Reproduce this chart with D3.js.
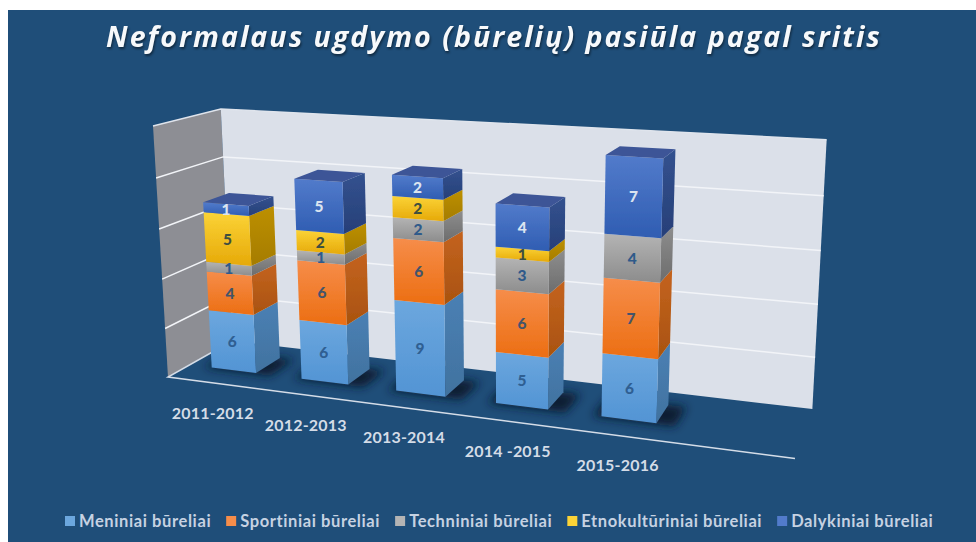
<!DOCTYPE html>
<html>
<head>
<meta charset="utf-8">
<script src="https://cdn.jsdelivr.net/npm/d3@7"></script>
<style>
  html, body { margin: 0; padding: 0; background: #fff; overflow: hidden; }
  svg { display: block; }
  text { font-family: Lato, "Open Sans", sans-serif; font-weight: 700; }
</style>
</head>
<body>
<script>
// Chart data
const titleText = "Neformalaus ugdymo (būrelių) pasiūla pagal sritis";
const categories = ["2011-2012", "2012-2013", "2013-2014", "2014 -2015", "2015-2016"];
const seriesNames = ["Meniniai būreliai", "Sportiniai būreliai", "Techniniai būreliai", "Etnokultūriniai būreliai", "Dalykiniai būreliai"];
const meniniai = [6, 6, 9, 5, 6];
const sportiniai = [4, 6, 6, 6, 7];
const techniniai = [1, 1, 2, 3, 4];
const etnokulturiniai = [5, 2, 2, 1, 0];
const dalykiniai = [1, 5, 2, 4, 7];
const axisMax = 25;

// Face colours per series: front top, front bottom, side top, side bottom, label
const palette = [
  ["#6ca7de", "#5294d4", "#4a80b4", "#41729f", "#2f5f92"],
  ["#f68d4a", "#ec6e12", "#c4631f", "#a9530f", "#44546a"],
  ["#b4b4b4", "#8c8c8c", "#8e8e8e", "#6c6c6c", "#2f5a8a"],
  ["#fbd337", "#e6a908", "#bd9000", "#a57c00", "#3f4f40"],
  ["#527bcb", "#2f5db2", "#33528f", "#273f78", "#dbe4f0"]
];
const topFace = "#3c5597";

const svgWidth = 976;
const svgHeight = 542;

const svg = d3.select("body").append("svg")
  .attr("width", svgWidth)
  .attr("height", svgHeight);

const defs = svg.append("defs");

svg.append("rect")
  .attr("x", 8).attr("y", 10)
  .attr("width", svgWidth - 8).attr("height", svgHeight - 10)
  .attr("fill", "#1f4e79");

// Perspective camera: screen spots of the box corners from the origin along x, y, z
// plus their homogeneous weights
const origin = [168, 377], cornerX = [795, 458.5], cornerY = [153, 126], cornerZ = [232, 341];
const weightX = 0.845, weightY = 0.958, weightZ = 1.085;

function project(x, y, z) {
  const w = 1 + x * (weightX - 1) + y * (weightY - 1) + z * (weightZ - 1);
  const at = i => origin[i]
    + x * (weightX * cornerX[i] - origin[i])
    + y * (weightY * cornerY[i] - origin[i])
    + z * (weightZ * cornerZ[i] - origin[i]);
  return [at(0) / w, at(1) / w];
}

const line2d = d3.line();
const polyPath = pts => line2d(pts) + "Z";

// The original axis has a sixth, empty slot on the right
const xScale = d3.scaleBand()
  .domain([...categories, ""])
  .range([0, 1])
  .paddingInner(0.5)
  .paddingOuter(0.25);
const yScale = d3.scaleLinear().domain([0, axisMax]).range([0, 1]);
const zFront = 0.325, zBack = 0.725;

// Walls
const walls = svg.append("g");
walls.append("path")
  .attr("d", polyPath([project(0, 0, 0), project(0, 1, 0), project(0, 1, 1), project(0, 0, 1)]))
  .attr("fill", "#8d8e94");
walls.append("path")
  .attr("d", polyPath([project(0, 0, 1), project(0, 1, 1), project(1, 1, 1), project(1, 0, 1)]))
  .attr("fill", "#dbe0e9");

// Gridlines run along the side wall and then the back wall
yScale.ticks(5).forEach(t => {
  const v = yScale(t);
  if (t === 0) return;
  walls.append("path")
    .attr("d", d3.line()([project(0, v, 0), project(0, v, 1), project(1, v, 1)]))
    .attr("fill", "none")
    .attr("stroke", t === axisMax ? "#dfe4ec" : "#f2f4f8")
    .attr("stroke-width", 1.5);
});
walls.append("path")
  .attr("d", d3.line()([project(0, 0, 1), project(0, 0, 0), project(1, 0, 0)]))
  .attr("fill", "none")
  .attr("stroke", "#d5dde8")
  .attr("stroke-width", 1.5);

// Gradients per series and face
function addGradient(id, top, bottom) {
  const g = defs.append("linearGradient")
    .attr("id", id)
    .attr("x1", 0).attr("y1", 0).attr("x2", 0).attr("y2", 1);
  g.append("stop").attr("offset", "0%").attr("stop-color", top);
  g.append("stop").attr("offset", "100%").attr("stop-color", bottom);
}
palette.forEach((p, i) => {
  addGradient("front" + i, p[0], p[1]);
  addGradient("side" + i, p[2], p[3]);
});

const blur = defs.append("filter")
  .attr("id", "floorShadow")
  .attr("x", "-40%").attr("y", "-80%").attr("width", "180%").attr("height", "260%");
blur.append("feGaussianBlur").attr("stdDeviation", 5);

const soften = defs.append("filter").attr("id", "soften");
soften.append("feGaussianBlur").attr("stdDeviation", 0.45);

// Stack the values
const table = categories.map((c, i) => ({
  category: c,
  [seriesNames[0]]: meniniai[i],
  [seriesNames[1]]: sportiniai[i],
  [seriesNames[2]]: techniniai[i],
  [seriesNames[3]]: etnokulturiniai[i],
  [seriesNames[4]]: dalykiniai[i]
}));
const stacked = d3.stack().keys(seriesNames)(table);

// Floor shadows
svg.append("g").selectAll("path")
  .data(categories)
  .enter()
  .append("path")
  .attr("d", c => {
    const x0 = xScale(c) - 0.012, x1 = xScale(c) + xScale.bandwidth() + 0.028;
    return polyPath([project(x0, 0, zFront - 0.02), project(x1, 0, zFront - 0.02), project(x1, 0, zBack), project(x0, 0, zBack)]);
  })
  .attr("fill", "#0a1c30")
  .attr("filter", "url(#floorShadow)");

// Bars, series by series from the bottom up
const bars = svg.append("g").attr("filter", "url(#soften)");
stacked.forEach((layer, s) => {
  layer.forEach((d, i) => {
    if (d[1] === d[0]) return;
    const x0 = xScale(categories[i]);
    const x1 = x0 + xScale.bandwidth();
    const y0 = yScale(d[0]), y1 = yScale(d[1]);
    bars.append("path")
      .attr("d", polyPath([project(x1, y0, zFront), project(x1, y1, zFront), project(x1, y1, zBack), project(x1, y0, zBack)]))
      .attr("fill", `url(#side${s})`);
    bars.append("path")
      .attr("d", polyPath([project(x0, y0, zFront), project(x0, y1, zFront), project(x1, y1, zFront), project(x1, y0, zFront)]))
      .attr("fill", `url(#front${s})`);
  });
});

// Bar tops
categories.forEach((c, i) => {
  const total = d3.max(stacked, layer => layer[i][1]);
  const x0 = xScale(c), x1 = x0 + xScale.bandwidth(), y = yScale(total);
  bars.append("path")
    .attr("d", polyPath([project(x0, y, zFront), project(x1, y, zFront), project(x1, y, zBack), project(x0, y, zBack)]))
    .attr("fill", topFace);
});

// Value labels on the front faces
stacked.forEach((layer, s) => {
  layer.forEach((d, i) => {
    const value = d[1] - d[0];
    if (!value) return;
    const x = xScale(categories[i]) + xScale.bandwidth() / 2;
    const p = project(x, yScale((d[0] + d[1]) / 2), zFront);
    svg.append("text")
      .attr("x", p[0]).attr("y", p[1])
      .attr("dy", "0.36em")
      .attr("text-anchor", "middle")
      .attr("font-size", 15.5)
      .style("font-weight", 900)
      .attr("fill", palette[s][4])
      .text(value);
  });
});

// Category labels hang below the front floor edge
categories.forEach(c => {
  const p = project(xScale(c) + xScale.bandwidth() / 2, 0, 0);
  svg.append("text")
    .attr("x", p[0]).attr("y", p[1] + 30)
    .attr("dy", "0.36em")
    .attr("text-anchor", "middle")
    .attr("font-size", 16)
    .attr("letter-spacing", 0.2)
    .attr("fill", "#d4dce7")
    .text(c);
});

// Title
svg.append("text")
  .attr("x", 494).attr("y", 47)
  .attr("text-anchor", "middle")
  .attr("font-size", 28.6)
  .attr("letter-spacing", 2)
  .attr("fill", "#f7f9fb")
  .style("font-family", "'Open Sans', sans-serif")
  .style("font-style", "italic")
  .style("filter", "drop-shadow(1px 2px 1px rgba(0,0,0,0.45))")
  .text(titleText);

// Legend, laid out from the measured text widths
const legend = svg.append("g");
let legendX = 65;
seriesNames.forEach((name, i) => {
  legend.append("rect")
    .attr("x", legendX).attr("y", 516)
    .attr("width", 10).attr("height", 10)
    .attr("fill", palette[i][0]);
  const label = legend.append("text")
    .attr("x", legendX + 14).attr("y", 521)
    .attr("dy", "0.36em")
    .attr("font-size", 16.5)
    .attr("letter-spacing", 0.6)
    .attr("fill", "#c6d2e2")
    .text(name);
  legendX += 14 + label.node().getComputedTextLength() + 15;
});
</script>
</body>
</html>
